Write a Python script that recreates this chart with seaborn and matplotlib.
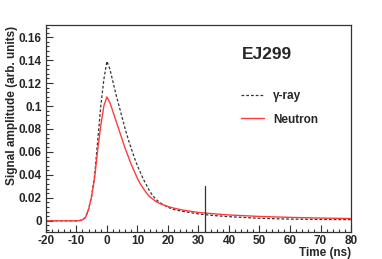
import matplotlib
matplotlib.use("Agg")
import matplotlib.pyplot as plt
import seaborn as sns
import numpy as np
import pandas as pd
from matplotlib.ticker import MultipleLocator, FuncFormatter

# ---- data ----
t_gamma = [-20, -15, -10, -9, -8, -7, -6, -5, -4, -3, -2, -1, 0, 1, 2, 3, 4, 5, 6, 7, 8, 9, 10,
           11, 12, 13, 14, 15, 16, 17, 18, 20, 22, 25, 30, 35, 40, 50, 60, 70, 80]
a_gamma = [0, 0, 0, 0.0002, 0.0008, 0.003, 0.010, 0.022, 0.040, 0.070, 0.100, 0.123, 0.139,
           0.132, 0.121, 0.110, 0.100, 0.090, 0.080, 0.071, 0.063, 0.055, 0.048,
           0.042, 0.036, 0.031, 0.026, 0.022, 0.019, 0.0165, 0.0148, 0.0118, 0.0098, 0.0082,
           0.0060, 0.0046, 0.0036, 0.0022, 0.0015, 0.0012, 0.0010]

t_neutron = [-20, -15, -10, -9, -8, -7, -6, -5, -4, -3, -2, -1, 0, 1, 2, 3, 4, 5, 6, 7, 8, 9, 10,
             11, 12, 13, 14, 15, 16, 17, 18, 20, 22, 25, 30, 35, 40, 50, 60, 70, 80]
a_neutron = [0, 0, 0, 0.0002, 0.0008, 0.003, 0.010, 0.021, 0.038, 0.062, 0.083, 0.100, 0.108,
             0.103, 0.095, 0.087, 0.079, 0.071, 0.063, 0.056, 0.049, 0.043, 0.037,
             0.032, 0.028, 0.024, 0.021, 0.019, 0.017, 0.0155, 0.0143, 0.0125, 0.011, 0.0093,
             0.0073, 0.0061, 0.0051, 0.0038, 0.0030, 0.0024, 0.0020]

series_labels = ["γ-ray", "Neutron"]
marker_x = [32, 32]
marker_y = [-0.01, 0.03]

xticks = [-20, -10, 0, 10, 20, 30, 40, 50, 60, 70, 80]
yticks = [0, 0.02, 0.04, 0.06, 0.08, 0.1, 0.12, 0.14, 0.16]

sns.set_style("white")
plt.rcParams['font.family'] = ['Liberation Sans', 'DejaVu Sans']
plt.rcParams['font.weight'] = 'bold'

fig = plt.figure(figsize=(3.82, 2.59), dpi=100)
ax = fig.add_axes([0.120, 0.104, 0.799, 0.799])

df_g = pd.DataFrame({"t": t_gamma, "a": a_gamma})
df_n = pd.DataFrame({"t": t_neutron, "a": a_neutron})

sns.lineplot(data=df_g, x="t", y="a", ax=ax, color="#333333", lw=0.9,
             linestyle=(0, (2.2, 1.6)), label=series_labels[0])
sns.lineplot(data=df_n, x="t", y="a", ax=ax, color="#ff3b3b", lw=1.0,
             label=series_labels[1])
ax.plot(marker_x, marker_y, color="#333333", lw=0.9)

ax.set_xlim(-20, 80)
ax.set_ylim(-0.0098, 0.1705)
ax.set_xticks(xticks)
ax.set_yticks(yticks)
ax.xaxis.set_minor_locator(MultipleLocator(2))
ax.yaxis.set_minor_locator(MultipleLocator(0.004))
ax.yaxis.set_major_formatter(FuncFormatter(lambda v, p: f"{v:g}"))
ax.xaxis.set_major_formatter(FuncFormatter(lambda v, p: f"{v:g}"))

ax.tick_params(which="major", direction="in", length=5, width=0.8, color="#333333",
               labelsize=8.5, pad=3, bottom=True, left=True, top=False, right=False)
ax.tick_params(axis="x", which="major", pad=2)
ax.tick_params(which="minor", direction="in", length=2.5, width=0.8, color="#333333",
               bottom=True, left=True, top=False, right=False)
for lab in ax.get_xticklabels() + ax.get_yticklabels():
    lab.set_fontweight("bold")

for s in ax.spines.values():
    s.set_color("#333333")
    s.set_linewidth(0.9)

ax.set_xlabel("")
ax.set_ylabel("")
fig.text(0.919, 0.0, "Time (ns)", ha="right", va="bottom", fontsize=8.5, fontweight="bold")
fig.text(0.031, 0.900, "Signal amplitude (arb. units)", rotation=90, ha="center", va="top",
         fontsize=8.5, fontweight="bold")
ax.text(0.642, 0.86, "EJ299", transform=ax.transAxes, fontsize=12.5, fontweight="bold",
        ha="left", va="center")

leg = ax.legend(loc="upper left", bbox_to_anchor=(0.613, 0.725), frameon=False, fontsize=8.5,
                handlelength=1.9, handletextpad=0.8, labelspacing=0.95, borderpad=0.2)
for txt in leg.get_texts():
    txt.set_fontweight("bold")

fig.savefig("out.png", dpi=100)
